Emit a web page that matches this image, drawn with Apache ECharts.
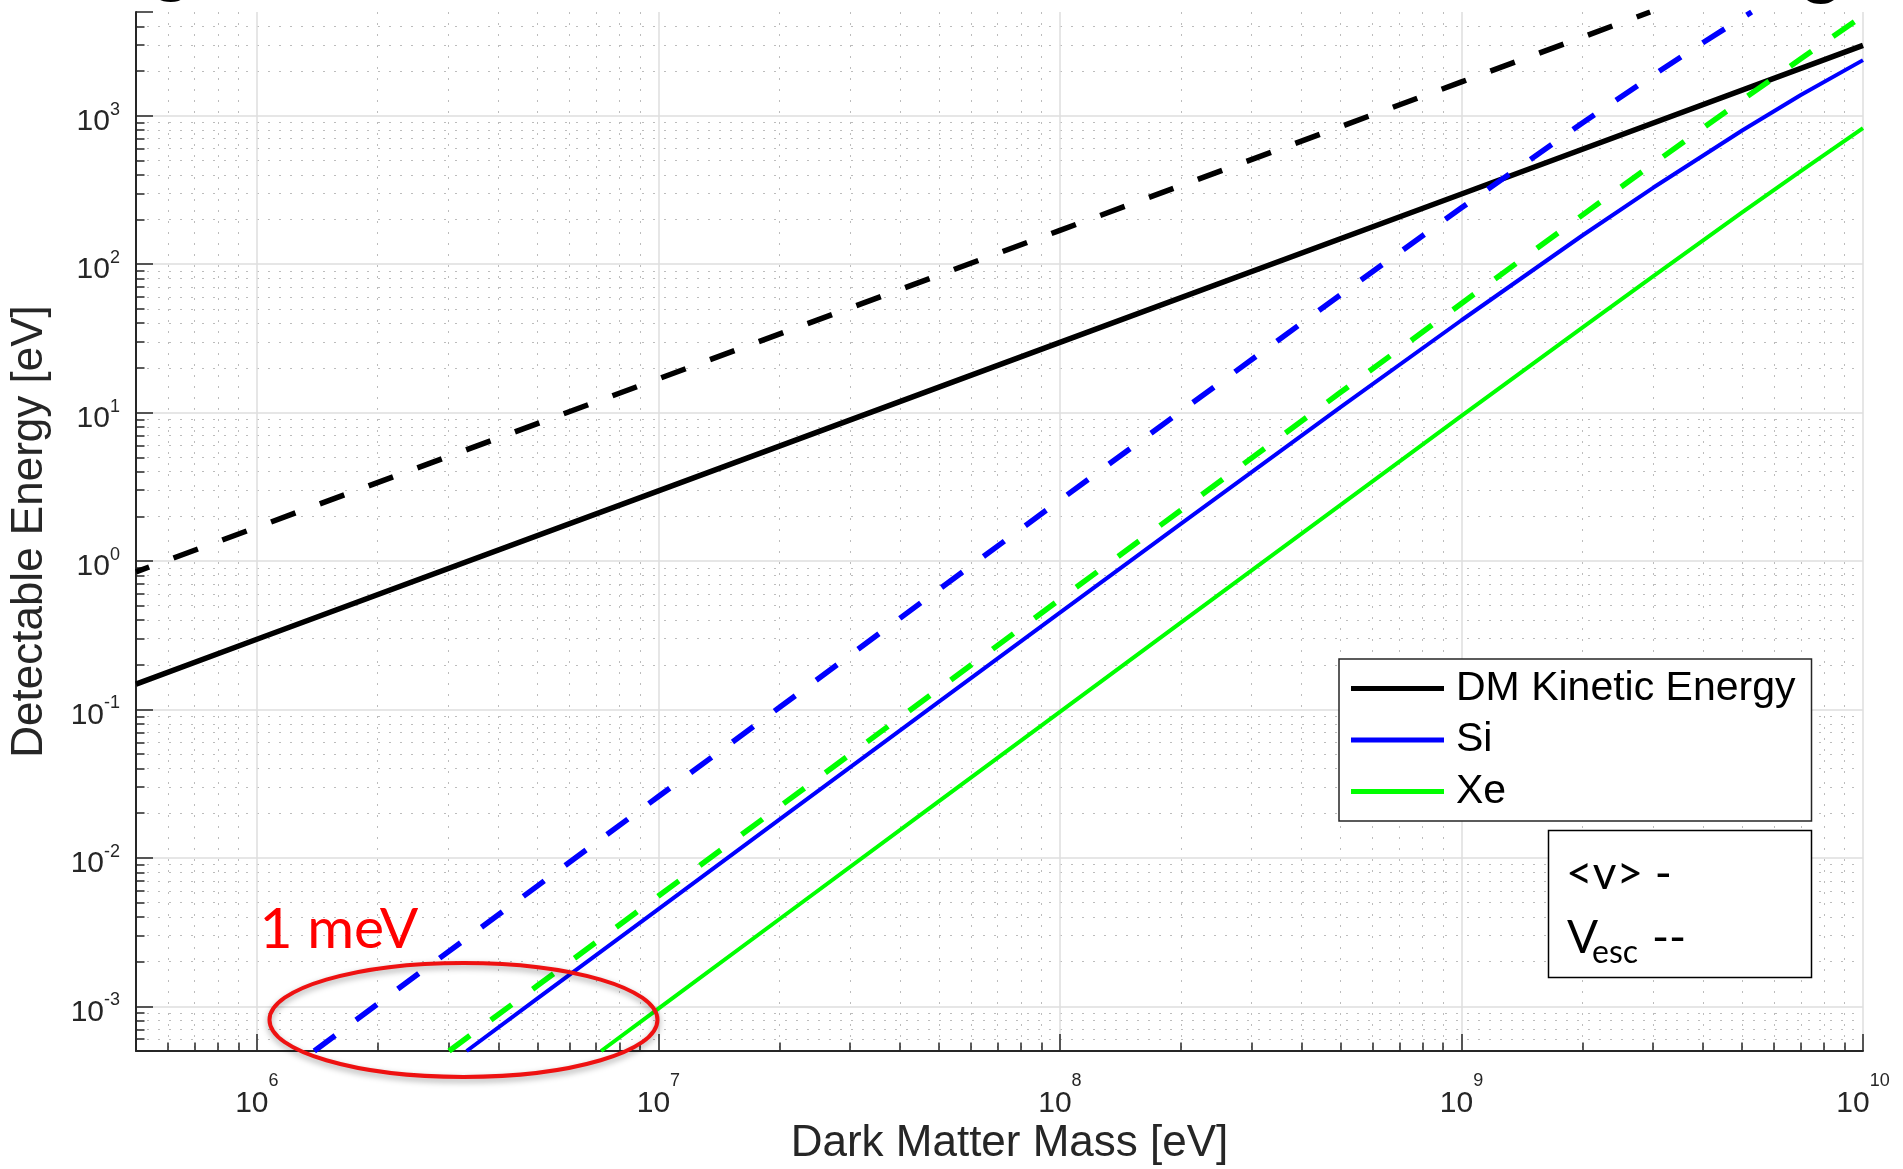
<!DOCTYPE html>
<html>
<head>
<meta charset="utf-8">
<title>Detectable Energy vs Dark Matter Mass</title>
<script src="https://cdn.jsdelivr.net/npm/echarts@6/dist/echarts.min.js"></script>
<style>
  html, body { margin: 0; padding: 0; background: #ffffff; }
  #chart { width: 1903px; height: 1169px; }
</style>
</head>
<body>
<div id="chart"></div>
<script>
// Dark matter mass [eV] against the largest detectable recoil energy [eV].
// Solid curves use the mean halo velocity <v>, dashed curves the escape velocity v_esc.

// DM kinetic energy
const dmMass = [5e5, 1e6, 1e7, 1e8, 1e9, 1e10];
const dmMean = [0.148, 0.297, 2.97, 29.7, 297, 2980];
const dmEscMass = [5e5, 1e6, 1e7, 1e8, 1e9, 2.95e9];
const dmEsc = [0.845, 1.69, 16.9, 169, 1690, 5000];

// Silicon target
const siMass = [3.33e6, 5e6, 1e7, 2e7, 5e7, 1e8, 2e8, 5e8, 1e9, 2e9, 3e9, 5e9, 7e9, 1e10];
const siMean = [5e-4, 1.13e-3, 4.52e-3, 0.0181, 0.113, 0.449, 1.78, 10.9, 41.9, 156, 327, 796, 1380, 2370];
const siEscMass = [1.39e6, 2e6, 5e6, 1e7, 2e7, 5e7, 1e8, 2e8, 5e8, 1e9, 2e9, 3e9, 4e9, 5e9, 5.28e9];
const siEsc = [5e-4, 1.04e-3, 6.48e-3, 0.0259, 0.103, 0.645, 2.57, 10.2, 62.3, 240, 894, 1875, 3116, 4560, 5000];

// Xenon target
const xeMass = [7.2e6, 1e7, 2e7, 5e7, 1e8, 2e8, 5e8, 1e9, 2e9, 3e9, 5e9, 7e9, 1e10];
const xeMean = [5e-4, 9.65e-4, 3.86e-3, 0.0241, 0.0963, 0.385, 2.39, 9.49, 37.4, 82.7, 223, 423, 824];
const xeEscMass = [3.01e6, 5e6, 1e7, 2e7, 5e7, 1e8, 2e8, 5e8, 1e9, 2e9, 3e9, 5e9, 7e9, 1e10];
const xeEsc = [5e-4, 1.38e-3, 5.53e-3, 0.0221, 0.138, 0.552, 2.2, 13.7, 54.4, 214, 474, 1275, 2420, 4720];

// Axis ranges
const massRange = [5e5, 1e10];
const energyRange = [5e-4, 5e3];

// Annotation: circled region around 1 meV
const meVCenter = [3.27e6, 8.1e-4];

const helv = "'Liberation Sans', Arial, Helvetica, sans-serif";
const calib = "Lato, 'Open Sans', sans-serif";
const axisInk = '#262626';

const pairs = (xs, ys) => xs.map((x, i) => [x, ys[i]]);

// 10^k labels with a raised exponent; non-decade ticks stay blank
function powerLabel(v) {
  const e = Math.log10(v);
  const k = Math.round(e);
  if (Math.abs(e - k) > 1e-6) return '';
  return '{b|10}{s|' + k + '}';
}

// exponent lifted by half of its bottom padding
function powerRich(lift) {
  return {
    b: { fontSize: 30, lineHeight: 30, fontFamily: helv, color: axisInk, verticalAlign: 'middle' },
    s: { fontSize: 18, lineHeight: 18, fontFamily: helv, color: axisInk, verticalAlign: 'middle',
         padding: [0, 0, lift * 2, 0] }
  };
}

function logAxis(extra) {
  return Object.assign({
    type: 'log',
    logBase: 10,
    nameLocation: 'middle',
    nameMoveOverlap: false,
    axisLine: { show: true, lineStyle: { color: axisInk, width: 2 } },
    axisTick: { show: true, inside: true, length: 17, lineStyle: { color: axisInk, width: 1.5 } },
    minorTick: { show: true, splitNumber: 9, length: 8.5, lineStyle: { color: axisInk, width: 1.5 } },
    splitLine: { show: true, lineStyle: { color: '#dedede', width: 1.5 } },
    minorSplitLine: { show: true, lineStyle: { color: '#bcbcbc', width: 1, type: [2, 9] } }
  }, extra);
}

function curve(name, xs, ys, color, width, dashed, extraLine) {
  return {
    name: name,
    type: 'line',
    data: pairs(xs, ys),
    showSymbol: false,
    symbol: 'none',
    clip: true,
    silent: true,
    itemStyle: { color: color },
    lineStyle: Object.assign({
      color: color,
      width: width,
      type: dashed ? [26, 26] : 'solid',
      cap: 'butt'
    }, extraLine || {})
  };
}

const chart = echarts.init(document.getElementById('chart'), null, { renderer: 'canvas' });

chart.setOption({
  animation: false,
  backgroundColor: '#ffffff',
  grid: {
    left: 136, right: 40, top: 12, bottom: 118,
    containLabel: false,
    outerBoundsMode: 'none'
  },
  xAxis: logAxis({
    min: massRange[0],
    max: massRange[1],
    name: 'Dark Matter Mass [eV]',
    nameGap: 71,
    nameTextStyle: { fontSize: 44, lineHeight: 44, fontFamily: helv, color: axisInk, padding: [0, 0, 0, 20] },
    axisLabel: { formatter: powerLabel, margin: 38, rich: powerRich(23) }
  }),
  yAxis: logAxis({
    min: energyRange[0],
    max: energyRange[1],
    name: 'Detectable Energy [eV]',
    nameGap: 84,
    nameRotate: 90,
    nameTextStyle: { fontSize: 44, lineHeight: 44, fontFamily: helv, color: axisInk },
    axisLabel: { formatter: powerLabel, margin: 16, padding: [12, 0, 0, 0], rich: powerRich(12) },
    splitLine: { show: true, showMaxLine: false, lineStyle: { color: '#dedede', width: 1.5 } }
  }),
  legend: {
    data: ['DM Kinetic Energy', 'Si', 'Xe'],
    orient: 'vertical',
    left: 1339,
    top: 659,
    padding: [9, 16, 9, 12],
    itemWidth: 93,
    itemHeight: 5,
    itemGap: 10.5,
    icon: 'rect',
    selectedMode: false,
    backgroundColor: '#ffffff',
    borderColor: axisInk,
    borderWidth: 1.5,
    borderRadius: 0,
    textStyle: { fontSize: 41, lineHeight: 41, fontFamily: helv, color: '#000000', padding: [0, 0, 0, 7] }
  },
  series: [
    curve('DM Kinetic Energy', dmMass, dmMean, '#000000', 5.5, false),
    curve('DM Kinetic Energy (v_esc)', dmEscMass, dmEsc, '#000000', 5.5, true, { dashOffset: 12 }),
    curve('Si', siMass, siMean, '#0000ff', 4, false),
    curve('Si (v_esc)', siEscMass, siEsc, '#0000ff', 5.5, true),
    curve('Xe', xeMass, xeMean, '#00ff00', 4, false),
    curve('Xe (v_esc)', xeEscMass, xeEsc, '#00ff00', 5.5, true)
  ]
});

// Overlay: velocity key box, circled 1 meV region and title descenders
const c = chart.convertToPixel({ gridIndex: 0 }, meVCenter);

chart.setOption({
  graphic: [
    {
      type: 'ellipse',
      z: 100,
      shape: { cx: c[0], cy: c[1], rx: 194, ry: 57 },
      style: {
        fill: null,
        stroke: '#ee1111',
        lineWidth: 4,
        shadowBlur: 6,
        shadowOffsetY: 3,
        shadowColor: 'rgba(0,0,0,0.35)'
      }
    },
    {
      type: 'text',
      z: 100,
      style: {
        text: '1 meV', x: c[0] - 204, y: c[1] - 90,
        font: '57px ' + calib, fill: '#ff0000',
        textAlign: 'left', verticalAlign: 'middle'
      }
    },
    {
      type: 'rect',
      z: 100,
      shape: { x: 1548.5, y: 830.5, width: 263, height: 147 },
      style: { fill: '#ffffff', stroke: '#000000', lineWidth: 1.5 }
    },
    {
      type: 'text', z: 101,
      style: { text: '<v> -', x: 1566, y: 874, font: '46px ' + calib, fill: '#000000', verticalAlign: 'middle' }
    },
    {
      type: 'text', z: 101,
      style: { text: 'V', x: 1567, y: 938, font: '46px ' + calib, fill: '#000000', verticalAlign: 'middle' }
    },
    {
      type: 'text', z: 101,
      style: { text: 'esc', x: 1592, y: 953, font: '32px ' + calib, fill: '#000000', verticalAlign: 'middle' }
    },
    {
      type: 'text', z: 101,
      style: { text: '--', x: 1652, y: 938, font: '46px ' + calib, fill: '#000000', verticalAlign: 'middle' }
    },
    {
      type: 'text', z: 101,
      style: { text: 'g', x: 152, y: -36, font: '75px ' + calib, fill: '#000000', verticalAlign: 'middle' }
    },
    {
      type: 'text', z: 101,
      style: { text: 'g', x: 1802, y: -34, font: '75px ' + calib, fill: '#000000', verticalAlign: 'middle' }
    }
  ]
});
</script>
</body>
</html>
